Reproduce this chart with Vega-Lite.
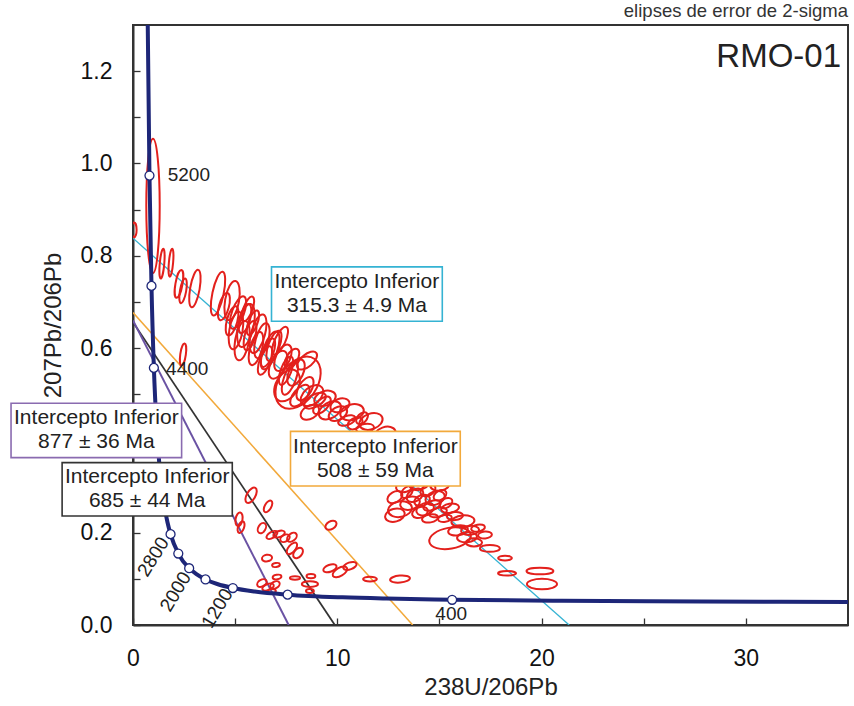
{
  "$schema": "https://vega.github.io/schema/vega-lite/v6.json",
  "width": 715,
  "height": 600,
  "autosize": {"type": "none"},
  "padding": {"left": 133, "top": 25, "right": 6, "bottom": 81},
  "background": "white",
  "title": {"text": "elipses de error de 2-sigma", "anchor": "end", "frame": "group", "fontSize": 18.5, "font": "Liberation Sans", "fontWeight": "normal", "color": "#333", "offset": 5},
  "config": {
    "view": {"stroke": "#333", "strokeWidth": 2},
    "axis": {"domainColor": "#333", "domainWidth": 2, "tickColor": "#333", "tickWidth": 1.3, "tickSize": -7, "labelFont": "Liberation Sans", "labelFontSize": 23, "labelColor": "#111", "titleFont": "Liberation Sans", "titleFontSize": 24, "titleFontWeight": "normal", "titleColor": "#222", "grid": false}
  },
  "datasets": {
    "concordia": [
      {"age": 170, "x": 37.4224, "y": 0.04947},
      {"age": 200, "x": 31.7349, "y": 0.05011},
      {"age": 250, "x": 25.2895, "y": 0.0512},
      {"age": 300, "x": 20.9921, "y": 0.05234},
      {"age": 400, "x": 15.621, "y": 0.0547},
      {"age": 500, "x": 12.3993, "y": 0.05722},
      {"age": 600, "x": 10.2518, "y": 0.0599},
      {"age": 800, "x": 7.5684, "y": 0.0658},
      {"age": 1000, "x": 5.96008, "y": 0.07251},
      {"age": 1200, "x": 4.8876, "y": 0.08012},
      {"age": 1400, "x": 4.12241, "y": 0.08879},
      {"age": 1600, "x": 3.5496, "y": 0.09872},
      {"age": 1800, "x": 3.10453, "y": 0.11004},
      {"age": 2000, "x": 2.7491, "y": 0.12299},
      {"age": 2400, "x": 2.2169, "y": 0.15484},
      {"age": 2800, "x": 1.838, "y": 0.1968},
      {"age": 3000, "x": 1.68743, "y": 0.22266},
      {"age": 3200, "x": 1.55578, "y": 0.25242},
      {"age": 3600, "x": 1.33704, "y": 0.32635},
      {"age": 4000, "x": 1.16306, "y": 0.42504},
      {"age": 4400, "x": 1.0216, "y": 0.55717},
      {"age": 4800, "x": 0.90453, "y": 0.7347},
      {"age": 5200, "x": 0.8062, "y": 0.9738},
      {"age": 5600, "x": 0.72265, "y": 1.2968},
      {"age": 5700, "x": 0.70367, "y": 1.3939}
    ],
    "discordia": [
      {"line": "cyan", "x": 0, "y": 0.838},
      {"line": "cyan", "x": 21.35, "y": 0},
      {"line": "orange", "x": 0, "y": 0.677},
      {"line": "orange", "x": 13.69, "y": 0},
      {"line": "black", "x": 0, "y": 0.656},
      {"line": "black", "x": 9.88, "y": 0},
      {"line": "purple", "x": 0, "y": 0.66},
      {"line": "purple", "x": 7.62, "y": 0}
    ],
    "ellipses": [
      {"x": 0.979, "y": 0.908, "len": 0.29, "asp": 0.1, "tilt": 0},
      {"x": 0.05, "y": 0.856, "len": 0.032, "asp": 0.35, "tilt": 0},
      {"x": 1.42, "y": 0.783, "len": 0.065, "asp": 0.15, "tilt": 5},
      {"x": 1.86, "y": 0.785, "len": 0.061, "asp": 0.15, "tilt": 5},
      {"x": 2.25, "y": 0.739, "len": 0.061, "asp": 0.25, "tilt": 10},
      {"x": 2.45, "y": 0.724, "len": 0.054, "asp": 0.25, "tilt": 10},
      {"x": 3.03, "y": 0.729, "len": 0.082, "asp": 0.25, "tilt": 10},
      {"x": 4.16, "y": 0.718, "len": 0.097, "asp": 0.25, "tilt": 12},
      {"x": 4.45, "y": 0.69, "len": 0.061, "asp": 0.35, "tilt": 15},
      {"x": 4.85, "y": 0.703, "len": 0.086, "asp": 0.35, "tilt": 10},
      {"x": 5.14, "y": 0.677, "len": 0.074, "asp": 0.35, "tilt": 20},
      {"x": 5.48, "y": 0.664, "len": 0.065, "asp": 0.35, "tilt": 15},
      {"x": 4.85, "y": 0.659, "len": 0.065, "asp": 0.35, "tilt": 15},
      {"x": 5.63, "y": 0.685, "len": 0.056, "asp": 0.35, "tilt": 20},
      {"x": 5.53, "y": 0.649, "len": 0.095, "asp": 0.35, "tilt": 12},
      {"x": 5.04, "y": 0.638, "len": 0.082, "asp": 0.35, "tilt": 10},
      {"x": 5.34, "y": 0.616, "len": 0.086, "asp": 0.35, "tilt": 10},
      {"x": 5.73, "y": 0.627, "len": 0.065, "asp": 0.35, "tilt": 15},
      {"x": 5.87, "y": 0.655, "len": 0.056, "asp": 0.35, "tilt": 20},
      {"x": 6.12, "y": 0.631, "len": 0.086, "asp": 0.35, "tilt": 15},
      {"x": 6.02, "y": 0.599, "len": 0.074, "asp": 0.35, "tilt": 15},
      {"x": 6.31, "y": 0.616, "len": 0.078, "asp": 0.35, "tilt": 15},
      {"x": 6.46, "y": 0.573, "len": 0.065, "asp": 0.35, "tilt": 20},
      {"x": 6.61, "y": 0.59, "len": 0.065, "asp": 0.35, "tilt": 20},
      {"x": 6.71, "y": 0.595, "len": 0.086, "asp": 0.35, "tilt": 20},
      {"x": 6.9, "y": 0.605, "len": 0.069, "asp": 0.35, "tilt": 20},
      {"x": 7.2, "y": 0.616, "len": 0.065, "asp": 0.35, "tilt": 25},
      {"x": 7.1, "y": 0.564, "len": 0.065, "asp": 0.5, "tilt": 25},
      {"x": 7.34, "y": 0.579, "len": 0.061, "asp": 0.5, "tilt": 25},
      {"x": 7.49, "y": 0.551, "len": 0.065, "asp": 0.35, "tilt": 20},
      {"x": 7.54, "y": 0.519, "len": 0.074, "asp": 0.65, "tilt": 30},
      {"x": 7.78, "y": 0.577, "len": 0.048, "asp": 0.5, "tilt": 30},
      {"x": 8.52, "y": 0.573, "len": 0.052, "asp": 0.5, "tilt": 50},
      {"x": 8.08, "y": 0.525, "len": 0.125, "asp": 0.65, "tilt": 35},
      {"x": 7.68, "y": 0.534, "len": 0.074, "asp": 0.35, "tilt": 20},
      {"x": 7.98, "y": 0.547, "len": 0.061, "asp": 0.5, "tilt": 25},
      {"x": 8.42, "y": 0.512, "len": 0.056, "asp": 0.5, "tilt": 30},
      {"x": 8.17, "y": 0.497, "len": 0.056, "asp": 0.5, "tilt": 40},
      {"x": 8.76, "y": 0.497, "len": 0.056, "asp": 0.65, "tilt": 50},
      {"x": 8.91, "y": 0.486, "len": 0.052, "asp": 0.5, "tilt": 60},
      {"x": 8.66, "y": 0.461, "len": 0.043, "asp": 0.65, "tilt": 60},
      {"x": 9.25, "y": 0.476, "len": 0.048, "asp": 0.5, "tilt": 45},
      {"x": 9.4, "y": 0.491, "len": 0.048, "asp": 0.65, "tilt": 70},
      {"x": 9.64, "y": 0.465, "len": 0.052, "asp": 0.65, "tilt": 60},
      {"x": 10.03, "y": 0.458, "len": 0.043, "asp": 0.65, "tilt": 60},
      {"x": 10.13, "y": 0.476, "len": 0.043, "asp": 0.65, "tilt": 70},
      {"x": 10.47, "y": 0.443, "len": 0.039, "asp": 0.5, "tilt": 70},
      {"x": 10.72, "y": 0.461, "len": 0.052, "asp": 0.65, "tilt": 75},
      {"x": 11.65, "y": 0.441, "len": 0.052, "asp": 0.65, "tilt": 70},
      {"x": 10.87, "y": 0.437, "len": 0.035, "asp": 0.65, "tilt": 60},
      {"x": 11.21, "y": 0.448, "len": 0.03, "asp": 0.65, "tilt": 45},
      {"x": 11.36, "y": 0.426, "len": 0.039, "asp": 0.5, "tilt": 80},
      {"x": 2.45, "y": 0.586, "len": 0.048, "asp": 0.25, "tilt": 8},
      {"x": 12.33, "y": 0.413, "len": 0.048, "asp": 0.65, "tilt": 70},
      {"x": 13.07, "y": 0.335, "len": 0.043, "asp": 0.65, "tilt": 70},
      {"x": 14.05, "y": 0.309, "len": 0.048, "asp": 0.65, "tilt": 70},
      {"x": 15.03, "y": 0.305, "len": 0.043, "asp": 0.65, "tilt": 80},
      {"x": 13.31, "y": 0.301, "len": 0.039, "asp": 0.65, "tilt": 75},
      {"x": 13.07, "y": 0.251, "len": 0.052, "asp": 0.65, "tilt": 80},
      {"x": 12.82, "y": 0.238, "len": 0.043, "asp": 0.65, "tilt": 75},
      {"x": 12.82, "y": 0.277, "len": 0.035, "asp": 0.65, "tilt": 60},
      {"x": 13.41, "y": 0.288, "len": 0.03, "asp": 0.65, "tilt": 45},
      {"x": 13.56, "y": 0.264, "len": 0.043, "asp": 0.65, "tilt": 75},
      {"x": 13.8, "y": 0.281, "len": 0.039, "asp": 0.65, "tilt": 60},
      {"x": 14.15, "y": 0.27, "len": 0.035, "asp": 0.65, "tilt": 70},
      {"x": 14.3, "y": 0.251, "len": 0.039, "asp": 0.65, "tilt": 70},
      {"x": 14.44, "y": 0.292, "len": 0.035, "asp": 0.65, "tilt": 60},
      {"x": 14.64, "y": 0.259, "len": 0.039, "asp": 0.5, "tilt": 70},
      {"x": 14.79, "y": 0.275, "len": 0.043, "asp": 0.65, "tilt": 70},
      {"x": 15.03, "y": 0.281, "len": 0.03, "asp": 0.65, "tilt": 60},
      {"x": 14.93, "y": 0.244, "len": 0.039, "asp": 0.5, "tilt": 75},
      {"x": 15.32, "y": 0.264, "len": 0.03, "asp": 0.65, "tilt": 60},
      {"x": 15.52, "y": 0.253, "len": 0.039, "asp": 0.5, "tilt": 80},
      {"x": 14.54, "y": 0.231, "len": 0.035, "asp": 0.5, "tilt": 80},
      {"x": 15.27, "y": 0.231, "len": 0.03, "asp": 0.5, "tilt": 80},
      {"x": 15.76, "y": 0.236, "len": 0.035, "asp": 0.5, "tilt": 85},
      {"x": 14.05, "y": 0.244, "len": 0.035, "asp": 0.65, "tilt": 70},
      {"x": 16.15, "y": 0.225, "len": 0.05, "asp": 0.5, "tilt": 85},
      {"x": 15.52, "y": 0.188, "len": 0.091, "asp": 0.5, "tilt": 80},
      {"x": 15.91, "y": 0.205, "len": 0.043, "asp": 0.5, "tilt": 80},
      {"x": 16.35, "y": 0.19, "len": 0.043, "asp": 0.5, "tilt": 85},
      {"x": 16.5, "y": 0.205, "len": 0.039, "asp": 0.5, "tilt": 85},
      {"x": 16.89, "y": 0.21, "len": 0.03, "asp": 0.5, "tilt": 80},
      {"x": 17.23, "y": 0.195, "len": 0.03, "asp": 0.5, "tilt": 85},
      {"x": 16.69, "y": 0.179, "len": 0.035, "asp": 0.5, "tilt": 90},
      {"x": 17.47, "y": 0.166, "len": 0.043, "asp": 0.35, "tilt": 90},
      {"x": 18.21, "y": 0.145, "len": 0.03, "asp": 0.35, "tilt": 90},
      {"x": 18.31, "y": 0.112, "len": 0.039, "asp": 0.25, "tilt": 90},
      {"x": 19.92, "y": 0.117, "len": 0.058, "asp": 0.25, "tilt": 90},
      {"x": 20.02, "y": 0.0886, "len": 0.065, "asp": 0.35, "tilt": 90},
      {"x": 13.07, "y": 0.0995, "len": 0.043, "asp": 0.35, "tilt": 85},
      {"x": 5.78, "y": 0.281, "len": 0.037, "asp": 0.5, "tilt": 30},
      {"x": 6.61, "y": 0.257, "len": 0.028, "asp": 0.5, "tilt": 30},
      {"x": 5.19, "y": 0.229, "len": 0.03, "asp": 0.5, "tilt": 10},
      {"x": 5.29, "y": 0.212, "len": 0.026, "asp": 0.5, "tilt": 20},
      {"x": 6.31, "y": 0.21, "len": 0.024, "asp": 0.65, "tilt": 30},
      {"x": 6.8, "y": 0.195, "len": 0.026, "asp": 0.5, "tilt": 60},
      {"x": 7.15, "y": 0.197, "len": 0.026, "asp": 0.5, "tilt": 70},
      {"x": 7.44, "y": 0.188, "len": 0.022, "asp": 0.65, "tilt": 60},
      {"x": 7.78, "y": 0.19, "len": 0.024, "asp": 0.65, "tilt": 50},
      {"x": 7.78, "y": 0.166, "len": 0.03, "asp": 0.5, "tilt": 40},
      {"x": 8.08, "y": 0.156, "len": 0.026, "asp": 0.65, "tilt": 40},
      {"x": 6.56, "y": 0.145, "len": 0.022, "asp": 0.65, "tilt": 80},
      {"x": 7.0, "y": 0.13, "len": 0.017, "asp": 0.5, "tilt": 80},
      {"x": 7.05, "y": 0.104, "len": 0.019, "asp": 0.5, "tilt": 80},
      {"x": 7.93, "y": 0.102, "len": 0.022, "asp": 0.35, "tilt": 90},
      {"x": 8.71, "y": 0.106, "len": 0.019, "asp": 0.5, "tilt": 90},
      {"x": 8.66, "y": 0.0886, "len": 0.035, "asp": 0.35, "tilt": 90},
      {"x": 8.66, "y": 0.0735, "len": 0.017, "asp": 0.5, "tilt": 90},
      {"x": 6.31, "y": 0.0908, "len": 0.022, "asp": 0.65, "tilt": 60},
      {"x": 6.61, "y": 0.0822, "len": 0.026, "asp": 0.5, "tilt": 70},
      {"x": 6.95, "y": 0.0865, "len": 0.022, "asp": 0.65, "tilt": 60},
      {"x": 6.8, "y": 0.0735, "len": 0.017, "asp": 0.5, "tilt": 90},
      {"x": 9.64, "y": 0.123, "len": 0.03, "asp": 0.5, "tilt": 70},
      {"x": 10.13, "y": 0.115, "len": 0.035, "asp": 0.5, "tilt": 60},
      {"x": 10.62, "y": 0.128, "len": 0.03, "asp": 0.5, "tilt": 70},
      {"x": 9.69, "y": 0.216, "len": 0.026, "asp": 0.65, "tilt": 60},
      {"x": 11.6, "y": 0.0995, "len": 0.03, "asp": 0.35, "tilt": 90}
    ],
    "markers": [
      {"age": 400, "x": 15.621, "y": 0.0547},
      {"age": 800, "x": 7.5684, "y": 0.0658},
      {"age": 1200, "x": 4.8876, "y": 0.08012},
      {"age": 1600, "x": 3.5496, "y": 0.09872},
      {"age": 2000, "x": 2.7491, "y": 0.12299},
      {"age": 2400, "x": 2.2169, "y": 0.15484},
      {"age": 2800, "x": 1.838, "y": 0.1968},
      {"age": 3200, "x": 1.55578, "y": 0.25242},
      {"age": 3600, "x": 1.33704, "y": 0.32635},
      {"age": 4000, "x": 1.16306, "y": 0.42504},
      {"age": 4400, "x": 1.0216, "y": 0.55717},
      {"age": 4800, "x": 0.90453, "y": 0.7347},
      {"age": 5200, "x": 0.8062, "y": 0.9738}
    ],
    "agelabels": [
      {"label": "5200", "x": 1.7, "y": 0.975},
      {"label": "4400", "x": 1.62, "y": 0.5557},
      {"label": "400", "x": 14.8, "y": 0.0238}
    ],
    "rotlabels": [
      {"label": "2800", "x": 0.994, "y": 0.1477, "rot": -58},
      {"label": "2000", "x": 2.09, "y": 0.072, "rot": -59},
      {"label": "1200", "x": 4.13, "y": 0.036, "rot": -59}
    ],
    "boxes": [
      {"box": "cyan", "x1": 6.78, "x2": 15.14, "y1": 0.658, "y2": 0.776, "cx": 10.96, "cy": 0.717, "text": "Intercepto Inferior\n315.3 ± 4.9 Ma"},
      {"box": "purple", "x1": -5.97, "x2": 2.38, "y1": 0.3626, "y2": 0.4806, "cx": -1.795, "cy": 0.4216, "text": "Intercepto Inferior\n877 ± 36 Ma"},
      {"box": "black", "x1": -3.47, "x2": 4.86, "y1": 0.2363, "y2": 0.3518, "cx": 0.695, "cy": 0.294, "text": "Intercepto Inferior\n685 ± 44 Ma"},
      {"box": "orange", "x1": 7.71, "x2": 16.02, "y1": 0.3012, "y2": 0.4195, "cx": 11.865, "cy": 0.3604, "text": "Intercepto Inferior\n508 ± 59 Ma"}
    ],
    "sample": [{"name": "RMO-01", "x": 35, "y": 1.2086}]
  },
  "layer": [
    {
      "data": {"name": "discordia"},
      "mark": {"type": "line", "clip": true},
      "encoding": {
        "x": {"field": "x", "type": "quantitative", "scale": {"domain": [0, 35], "nice": false, "zero": false}, "axis": {"title": "238U/206Pb", "values": [0, 5, 10, 15, 20, 25, 30], "labelExpr": "datum.value % 10 == 0 ? datum.label : ''", "labelFlush": false, "labelPadding": 29, "titlePadding": 5}},
        "y": {"field": "y", "type": "quantitative", "scale": {"domain": [0, 1.3], "nice": false, "zero": false}, "axis": {"title": "207Pb/206Pb", "values": [0, 0.1, 0.2, 0.3, 0.4, 0.5, 0.6, 0.7, 0.8, 0.9, 1.0, 1.1, 1.2], "labelExpr": "(round(datum.value * 10) % 2 == 0 && round(datum.value * 10) != 4) ? format(datum.value, '.1f') : ''", "labelFlush": false, "labelPadding": 28, "titlePadding": 15}},
        "detail": {"field": "line", "type": "nominal"},
        "color": {"field": "line", "type": "nominal", "scale": {"domain": ["cyan", "orange", "black", "purple"], "range": ["#35b3d3", "#f2a93b", "#333333", "#6a52a3"]}, "legend": null},
        "strokeWidth": {"field": "line", "type": "nominal", "scale": {"domain": ["cyan", "orange", "black", "purple"], "range": [1.3, 2, 1.2, 1.2]}, "legend": null}
      }
    },
    {
      "data": {"name": "ellipses"},
      "mark": {"type": "point", "filled": false, "stroke": "#e3201c", "strokeWidth": 2, "opacity": 1, "clip": true},
      "encoding": {
        "x": {"field": "x", "type": "quantitative"},
        "y": {"field": "y", "type": "quantitative"},
        "size": {"field": "len", "type": "quantitative", "scale": {"type": "pow", "exponent": 2, "domain": [0, 1], "range": [0, 213906]}, "legend": null},
        "shape": {"field": "asp", "type": "nominal", "scale": {"domain": [0.1, 0.15, 0.25, 0.35, 0.5, 0.65, 0.8], "range": [
          "M0,-1A0.1,1 0 1,1 0,1A0.1,1 0 1,1 0,-1Z",
          "M0,-1A0.15,1 0 1,1 0,1A0.15,1 0 1,1 0,-1Z",
          "M0,-1A0.25,1 0 1,1 0,1A0.25,1 0 1,1 0,-1Z",
          "M0,-1A0.35,1 0 1,1 0,1A0.35,1 0 1,1 0,-1Z",
          "M0,-1A0.5,1 0 1,1 0,1A0.5,1 0 1,1 0,-1Z",
          "M0,-1A0.65,1 0 1,1 0,1A0.65,1 0 1,1 0,-1Z",
          "M0,-1A0.8,1 0 1,1 0,1A0.8,1 0 1,1 0,-1Z"
        ]}, "legend": null},
        "angle": {"field": "tilt", "type": "quantitative", "scale": {"domain": [0, 360], "range": [0, 360]}}
      }
    },
    {
      "data": {"name": "concordia"},
      "mark": {"type": "line", "color": "#1d2678", "strokeWidth": 4, "interpolate": "monotone", "clip": true},
      "encoding": {
        "x": {"field": "x", "type": "quantitative"},
        "y": {"field": "y", "type": "quantitative"}
      }
    },
    {
      "data": {"name": "markers"},
      "mark": {"type": "point", "filled": true, "fill": "white", "stroke": "#1d2678", "strokeWidth": 1.3, "size": 80, "opacity": 1},
      "encoding": {
        "x": {"field": "x", "type": "quantitative"},
        "y": {"field": "y", "type": "quantitative"}
      }
    },
    {
      "data": {"name": "agelabels"},
      "mark": {"type": "text", "font": "Liberation Sans", "fontSize": 19, "color": "#222", "align": "left", "baseline": "middle"},
      "encoding": {
        "x": {"field": "x", "type": "quantitative"},
        "y": {"field": "y", "type": "quantitative"},
        "text": {"field": "label"}
      }
    },
    {
      "data": {"name": "rotlabels"},
      "mark": {"type": "text", "font": "Liberation Sans", "fontSize": 19, "color": "#222", "align": "center", "baseline": "middle"},
      "encoding": {
        "x": {"field": "x", "type": "quantitative"},
        "y": {"field": "y", "type": "quantitative"},
        "text": {"field": "label"},
        "angle": {"field": "rot", "type": "quantitative", "scale": null}
      }
    },
    {
      "data": {"name": "boxes"},
      "mark": {"type": "rect", "fill": "white", "strokeWidth": 1.6},
      "encoding": {
        "x": {"field": "x1", "type": "quantitative"},
        "x2": {"field": "x2"},
        "y": {"field": "y1", "type": "quantitative"},
        "y2": {"field": "y2"},
        "stroke": {"field": "box", "type": "nominal", "scale": {"domain": ["cyan", "orange", "black", "purple"], "range": ["#35b3d3", "#f2a93b", "#333333", "#8a6bb0"]}, "legend": null}
      }
    },
    {
      "data": {"name": "boxes"},
      "mark": {"type": "text", "font": "Liberation Sans", "fontSize": 21, "color": "#222", "align": "center", "baseline": "middle", "lineBreak": "\n", "lineHeight": 24, "dy": -12},
      "encoding": {
        "x": {"field": "cx", "type": "quantitative"},
        "y": {"field": "cy", "type": "quantitative"},
        "text": {"field": "text"}
      }
    },
    {
      "data": {"name": "sample"},
      "mark": {"type": "text", "font": "Liberation Sans", "fontSize": 33, "color": "#222", "align": "right", "baseline": "alphabetic", "dx": -7},
      "encoding": {
        "x": {"field": "x", "type": "quantitative"},
        "y": {"field": "y", "type": "quantitative"},
        "text": {"field": "name"}
      }
    }
  ]
}
